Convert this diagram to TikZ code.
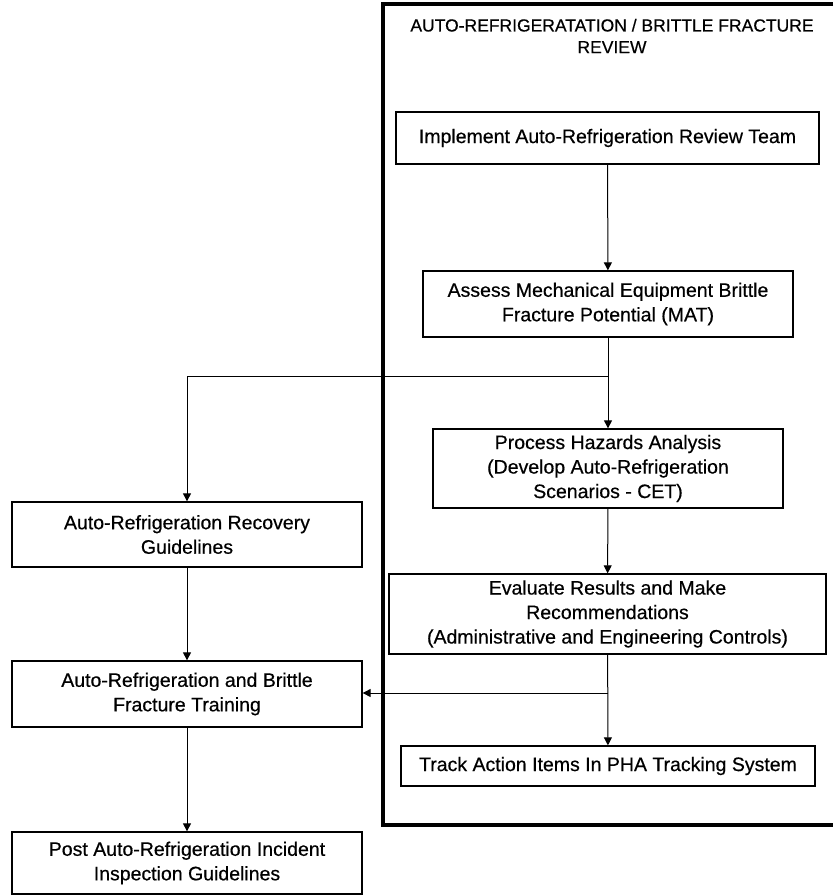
\documentclass[tikz,border=0pt]{standalone}
\usepackage{fontspec}
\setmainfont[FakeBold=0.5]{Liberation Sans}
\usetikzlibrary{arrows.meta}

\begin{document}
\begin{tikzpicture}[x=1pt,y=-1pt]
  \useasboundingbox (0,0) rectangle (833,896);
  \tikzstyle{stepbox}=[draw,rectangle,line width=1.3pt,align=center,inner sep=2pt,font=\fontsize{19.5}{24.5}\selectfont]
  \tikzstyle{flow}=[line width=1pt,-{Triangle[length=8pt,width=8pt]}]
  \draw[line width=3.5pt] (833,4) -- (383,4) -- (383,825) -- (833,825);
  \node[font=\fontsize{17.5}{21.7}\selectfont,align=center] (title) at (612,36) {AUTO-REFRIGERATATION / BRITTLE FRACTURE\\REVIEW};
  \node[stepbox,minimum width=423pt,minimum height=52pt] (team) at (607.5,138) {Implement Auto-Refrigeration Review Team};
  \node[stepbox,minimum width=370pt,minimum height=66pt] (assess) at (608,304) {Assess Mechanical Equipment Brittle\\Fracture Potential (MAT)};
  \node[stepbox,minimum width=350pt,minimum height=79pt] (pha) at (608,468.5) {Process Hazards Analysis\\(Develop Auto-Refrigeration\\Scenarios - CET)};
  \node[stepbox,minimum width=437pt,minimum height=80pt] (evaluate) at (607.5,614) {Evaluate Results and Make\\Recommendations\\(Administrative and Engineering Controls)};
  \node[stepbox,minimum width=414pt,minimum height=40pt] (track) at (608,766) {Track Action Items In PHA Tracking System};
  \node[stepbox,minimum width=350pt,minimum height=65pt] (recovery) at (187,534.5) {Auto-Refrigeration Recovery\\Guidelines};
  \node[stepbox,minimum width=350pt,minimum height=66pt] (training) at (187,694) {Auto-Refrigeration and Brittle\\Fracture Training};
  \node[stepbox,minimum width=350pt,minimum height=62pt] (post) at (187,863) {Post Auto-Refrigeration Incident\\Inspection Guidelines};
  \coordinate (split1) at (608,376);
  \coordinate (split2) at (608,693);
  \draw[flow] (team) -- (assess);
  \draw[flow] (assess) -- (pha);
  \draw[flow] (split1) -| (recovery.north);
  \draw[flow] (pha) -- (evaluate);
  \draw[flow] (evaluate) -- (track);
  \draw[flow] (split2) -- (training.east |- split2);
  \draw[flow] (recovery) -- (training);
  \draw[flow] (training) -- (post);
\end{tikzpicture}
\end{document}
